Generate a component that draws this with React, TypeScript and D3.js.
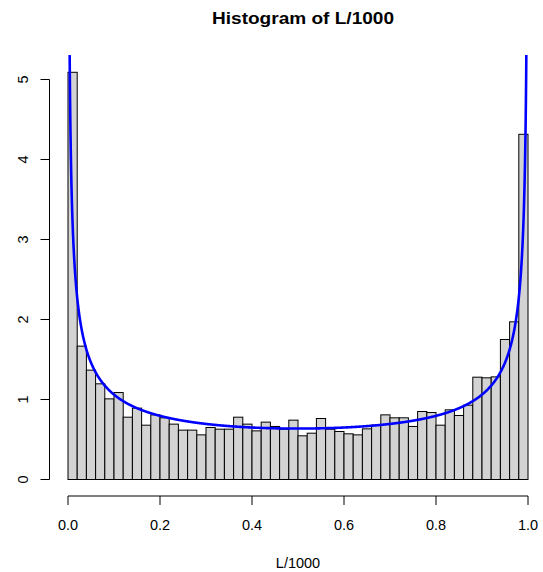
import React from "react";
import * as d3 from "d3";

// Histogram bin edges (width 0.02) and densities
const binStart = 0;
const binWidth = 0.02;
const densities: number[] = [
  5.09, 1.667, 1.367, 1.196, 1.008, 1.087, 0.779, 0.892, 0.679, 0.808,
  0.771, 0.692, 0.617, 0.617, 0.558, 0.65, 0.629, 0.629, 0.779, 0.692,
  0.608, 0.717, 0.663, 0.629, 0.742, 0.546, 0.579, 0.7625, 0.629, 0.6,
  0.571, 0.558, 0.633, 0.68, 0.808, 0.771, 0.771, 0.663, 0.85, 0.8375,
  0.679, 0.871, 0.8, 0.929, 1.279, 1.271, 1.283, 1.75, 1.971, 4.315,
];
const xTicks: number[] = [0, 0.2, 0.4, 0.6, 0.8, 1.0];
const xTickLabels: string[] = ["0.0", "0.2", "0.4", "0.6", "0.8", "1.0"];
const yTicks: number[] = [0, 1, 2, 3, 4, 5];
const yTickLabels: string[] = ["0", "1", "2", "3", "4", "5"];
const title = "Histogram of L/1000";
const xLabel = "L/1000";

// Theoretical Beta(0.5, 0.5) (arcsine) density overlaid as the curve
const shapeA = 0.5;
const shapeB = 0.5;
const betaFn = Math.PI; // B(0.5, 0.5)
const density = (x: number) =>
  Math.pow(x, shapeA - 1) * Math.pow(1 - x, shapeB - 1) / betaFn;

export default function App() {
  const W = 543, H = 572;
  const x = d3.scaleLinear().domain([0, 1]).range([68, 528]);
  const y = d3.scaleLinear().domain([0, 5]).range([479.5, 79.5]);
  const clip = { x0: 49.5, x1: 546, y0: 55, y1: 496 };

  const curvePts: [number, number][] = d3
    .range(0.0005, 0.99951, 0.0005)
    .map((v) => [v, density(v)] as [number, number]);
  const line = d3
    .line<[number, number]>()
    .x((d) => x(d[0]))
    .y((d) => y(d[1]));

  const font = "'Liberation Sans', Arial, Helvetica, sans-serif";

  return (
    <svg
      width={W}
      height={H}
      style={{ position: "absolute", left: 0, top: 0, background: "#fff" }}
      fontFamily={font}
    >
      <defs>
        <clipPath id="plotclip">
          <rect x={clip.x0} y={clip.y0} width={clip.x1 - clip.x0} height={clip.y1 - clip.y0} />
        </clipPath>
      </defs>
      <rect x={0} y={0} width={W} height={H} fill="#fff" />
      <text
        x={303}
        y={23.5}
        textAnchor="middle"
        fontWeight="bold"
        fontSize={17}
        textLength={182}
        lengthAdjust="spacingAndGlyphs"
      >
        {title}
      </text>

      {densities.map((d, i) => {
        const x0 = x(binStart + i * binWidth);
        const x1 = x(binStart + (i + 1) * binWidth);
        return (
          <rect
            key={i}
            x={x0}
            y={y(d)}
            width={x1 - x0}
            height={y(0) - y(d)}
            fill="#d3d3d3"
            stroke="#000"
            strokeWidth={1}
          />
        );
      })}

      <path
        d={line(curvePts) || ""}
        fill="none"
        stroke="#0000ff"
        strokeWidth={2.6}
        clipPath="url(#plotclip)"
      />

      {/* x axis */}
      <line x1={x(0)} x2={x(1)} y1={496} y2={496} stroke="#000" />
      {xTicks.map((t, i) => (
        <g key={i}>
          <line x1={x(t)} x2={x(t)} y1={496} y2={505} stroke="#000" />
          <text x={x(t)} y={530} textAnchor="middle" fontSize={14.5}>
            {xTickLabels[i]}
          </text>
        </g>
      ))}
      <text x={298} y={568} textAnchor="middle" fontSize={14.5}>
        {xLabel}
      </text>

      {/* y axis */}
      <line x1={49.5} x2={49.5} y1={y(0)} y2={y(5)} stroke="#000" />
      {yTicks.map((t, i) => (
        <g key={i}>
          <line x1={40.5} x2={49.5} y1={y(t)} y2={y(t)} stroke="#000" />
          <text
            transform={`translate(27.5,${y(t)}) rotate(-90)`}
            textAnchor="middle"
            fontSize={14.5}
          >
            {yTickLabels[i]}
          </text>
        </g>
      ))}
    </svg>
  );
}
